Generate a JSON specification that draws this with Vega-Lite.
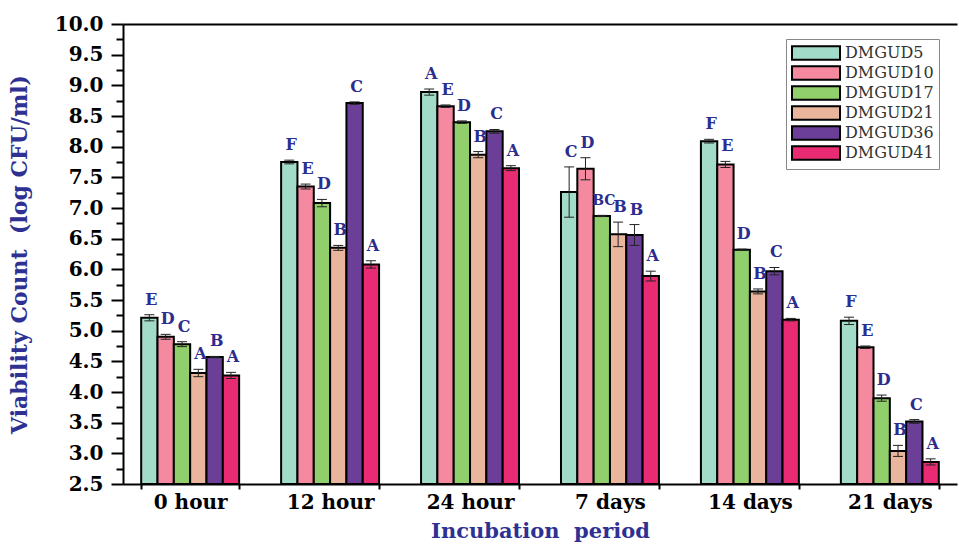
{
  "$schema": "https://vega.github.io/schema/vega-lite/v6.json",
  "width": 834,
  "height": 460,
  "autosize": {"type": "none"},
  "padding": {"left": 123, "top": 24, "right": 2, "bottom": 60},
  "background": "white",
  "config": {"view": {"stroke": null}, "font": "DejaVu Serif"},
  "data": {
    "values": [
      {"period": "0 hour", "strain": "DMGUD5", "value": 5.21, "err": 0.05, "letter": "E"},
      {"period": "0 hour", "strain": "DMGUD10", "value": 4.90, "err": 0.04, "letter": "D"},
      {"period": "0 hour", "strain": "DMGUD17", "value": 4.78, "err": 0.04, "letter": "C"},
      {"period": "0 hour", "strain": "DMGUD21", "value": 4.31, "err": 0.06, "letter": "A"},
      {"period": "0 hour", "strain": "DMGUD36", "value": 4.57, "err": 0.01, "letter": "B"},
      {"period": "0 hour", "strain": "DMGUD41", "value": 4.27, "err": 0.05, "letter": "A"},
      {"period": "12 hour", "strain": "DMGUD5", "value": 7.75, "err": 0.03, "letter": "F"},
      {"period": "12 hour", "strain": "DMGUD10", "value": 7.35, "err": 0.04, "letter": "E"},
      {"period": "12 hour", "strain": "DMGUD17", "value": 7.08, "err": 0.06, "letter": "D"},
      {"period": "12 hour", "strain": "DMGUD21", "value": 6.35, "err": 0.04, "letter": "B"},
      {"period": "12 hour", "strain": "DMGUD36", "value": 8.71, "err": 0.02, "letter": "C"},
      {"period": "12 hour", "strain": "DMGUD41", "value": 6.08, "err": 0.06, "letter": "A"},
      {"period": "24 hour", "strain": "DMGUD5", "value": 8.89, "err": 0.05, "letter": "A"},
      {"period": "24 hour", "strain": "DMGUD10", "value": 8.66, "err": 0.02, "letter": "E"},
      {"period": "24 hour", "strain": "DMGUD17", "value": 8.40, "err": 0.02, "letter": "D"},
      {"period": "24 hour", "strain": "DMGUD21", "value": 7.87, "err": 0.05, "letter": "B"},
      {"period": "24 hour", "strain": "DMGUD36", "value": 8.25, "err": 0.03, "letter": "C"},
      {"period": "24 hour", "strain": "DMGUD41", "value": 7.65, "err": 0.04, "letter": "A"},
      {"period": "7 days", "strain": "DMGUD5", "value": 7.26, "err": 0.41, "letter": "C"},
      {"period": "7 days", "strain": "DMGUD10", "value": 7.64, "err": 0.18, "letter": "D"},
      {"period": "7 days", "strain": "DMGUD17", "value": 6.87, "err": 0.01, "letter": "BC"},
      {"period": "7 days", "strain": "DMGUD21", "value": 6.57, "err": 0.20, "letter": "B"},
      {"period": "7 days", "strain": "DMGUD36", "value": 6.56, "err": 0.17, "letter": "B"},
      {"period": "7 days", "strain": "DMGUD41", "value": 5.89, "err": 0.08, "letter": "A"},
      {"period": "14 days", "strain": "DMGUD5", "value": 8.09, "err": 0.03, "letter": "F"},
      {"period": "14 days", "strain": "DMGUD10", "value": 7.71, "err": 0.05, "letter": "E"},
      {"period": "14 days", "strain": "DMGUD17", "value": 6.32, "err": 0.01, "letter": "D"},
      {"period": "14 days", "strain": "DMGUD21", "value": 5.64, "err": 0.04, "letter": "B"},
      {"period": "14 days", "strain": "DMGUD36", "value": 5.97, "err": 0.06, "letter": "C"},
      {"period": "14 days", "strain": "DMGUD41", "value": 5.18, "err": 0.02, "letter": "A"},
      {"period": "21 days", "strain": "DMGUD5", "value": 5.16, "err": 0.06, "letter": "F"},
      {"period": "21 days", "strain": "DMGUD10", "value": 4.73, "err": 0.02, "letter": "E"},
      {"period": "21 days", "strain": "DMGUD17", "value": 3.90, "err": 0.05, "letter": "D"},
      {"period": "21 days", "strain": "DMGUD21", "value": 3.04, "err": 0.09, "letter": "B"},
      {"period": "21 days", "strain": "DMGUD36", "value": 3.52, "err": 0.03, "letter": "C"},
      {"period": "21 days", "strain": "DMGUD41", "value": 2.86, "err": 0.05, "letter": "A"}
    ]
  },
  "transform": [
    {"calculate": "datum.value - datum.err", "as": "lo"},
    {"calculate": "datum.value + datum.err", "as": "hi"}
  ],
  "encoding": {
    "x": {
      "field": "period", "type": "nominal",
      "sort": ["0 hour", "12 hour", "24 hour", "7 days", "14 days", "21 days"],
      "scale": {"paddingInner": 0.3, "paddingOuter": 0.13},
      "axis": null
    },
    "xOffset": {
      "field": "strain", "type": "nominal",
      "sort": ["DMGUD5", "DMGUD10", "DMGUD17", "DMGUD21", "DMGUD36", "DMGUD41"],
      "scale": {"paddingInner": 0, "paddingOuter": 0}
    }
  },
  "layer": [
    {
      "mark": {"type": "bar", "stroke": "black", "strokeWidth": 2, "opacity": 1},
      "encoding": {
        "x": {
          "field": "period", "type": "nominal",
          "sort": ["0 hour", "12 hour", "24 hour", "7 days", "14 days", "21 days"],
          "scale": {"paddingInner": 0.3, "paddingOuter": 0.13},
          "axis": {
            "title": "Incubation\u00a0 period",
            "labelAngle": 0,
            "tickBand": "extent",
            "tickSize": 5,
            "tickWidth": 2,
            "tickColor": "black",
            "domainColor": "black",
            "domainWidth": 2,
            "labelPadding": 3,
            "labelFont": "DejaVu Serif",
            "labelFontSize": 20,
            "labelFontWeight": "bold",
            "labelColor": "black",
            "titleFont": "DejaVu Serif",
            "titleFontSize": 21,
            "titleFontWeight": "bold",
            "titleColor": "#2e3192",
            "titlePadding": 8
          }
        },
        "y": {
          "field": "value", "type": "quantitative",
          "scale": {"domain": [2.5, 10], "nice": false, "zero": false},
          "axis": {
            "orient": "left",
            "title": "Viability Count\u00a0 (log CFU/ml)",
            "values": [2.5, 3, 3.5, 4, 4.5, 5, 5.5, 6, 6.5, 7, 7.5, 8, 8.5, 9, 9.5, 10],
            "format": ".1f",
            "labelOverlap": false,
            "grid": false,
            "tickSize": 12,
            "tickWidth": 2,
            "tickColor": "black",
            "domainColor": "black",
            "domainWidth": 2,
            "labelPadding": 8,
            "labelFont": "DejaVu Serif",
            "labelFontSize": 20,
            "labelFontWeight": "bold",
            "labelColor": "black",
            "titleFont": "DejaVu Serif",
            "titleFontSize": 22,
            "titleFontWeight": "bold",
            "titleColor": "#2e3192",
            "titlePadding": 23
          }
        },
        "y2": {"datum": 2.5},
        "fill": {
          "field": "strain", "type": "nominal",
          "sort": ["DMGUD5", "DMGUD10", "DMGUD17", "DMGUD21", "DMGUD36", "DMGUD41"],
          "scale": {
            "domain": ["DMGUD5", "DMGUD10", "DMGUD17", "DMGUD21", "DMGUD36", "DMGUD41"],
            "range": ["#a2dcc9", "#f4899f", "#90cf6b", "#e9b59d", "#6b3f97", "#e82b73"]
          },
          "legend": {
            "orient": "none",
            "legendX": 663,
            "legendY": 15,
            "title": null,
            "symbolType": "M-3,-0.85L3,-0.85L3,0.85L-3,0.85Z",
            "symbolSize": 256,
            "symbolOffset": 16,
            "symbolStrokeColor": "black",
            "symbolStrokeWidth": 2,
            "symbolOpacity": 1,
            "labelFont": "DejaVu Serif",
            "labelFontSize": 16,
            "labelColor": "#333333",
            "labelOffset": 20,
            "labelLimit": 200,
            "rowPadding": -7.5,
            "padding": 5,
            "strokeColor": "#888888",
            "fillColor": "white"
          }
        }
      }
    },
    {
      "mark": {"type": "rule", "color": "#222222", "strokeWidth": 1},
      "encoding": {
        "y": {
          "field": "lo", "type": "quantitative",
          "axis": {
            "orient": "left",
            "values": [2.75, 3.25, 3.75, 4.25, 4.75, 5.25, 5.75, 6.25, 6.75, 7.25, 7.75, 8.25, 8.75, 9.25, 9.75],
            "labels": false,
            "domain": false,
            "grid": false,
            "title": null,
            "tickSize": 7,
            "tickWidth": 2,
            "tickColor": "black"
          }
        },
        "y2": {"field": "hi"}
      }
    },
    {
      "mark": {"type": "tick", "color": "#222222", "thickness": 1, "size": 10, "opacity": 1},
      "encoding": {"y": {"field": "lo", "type": "quantitative", "axis": null}}
    },
    {
      "mark": {"type": "tick", "color": "#222222", "thickness": 1, "size": 10, "opacity": 1},
      "encoding": {"y": {"field": "hi", "type": "quantitative", "axis": null}}
    },
    {
      "mark": {"type": "text", "font": "DejaVu Serif", "fontWeight": "bold", "fontSize": 16, "color": "#2b2d8f", "baseline": "bottom", "dy": -7, "dx": 2},
      "encoding": {
        "x": {
          "field": "period", "type": "nominal",
          "sort": ["0 hour", "12 hour", "24 hour", "7 days", "14 days", "21 days"],
          "scale": {"paddingInner": 0.3, "paddingOuter": 0.13},
          "axis": {"orient": "top", "labels": false, "ticks": false, "title": null, "domainColor": "black", "domainWidth": 2}
        },
        "y": {"field": "hi", "type": "quantitative", "axis": null},
        "text": {"field": "letter"},
        "size": {"condition": {"test": "length(datum.letter) > 1", "value": 14}, "value": 16}
      }
    }
  ],
  "resolve": {"axis": {"x": "independent", "y": "independent"}}
}
